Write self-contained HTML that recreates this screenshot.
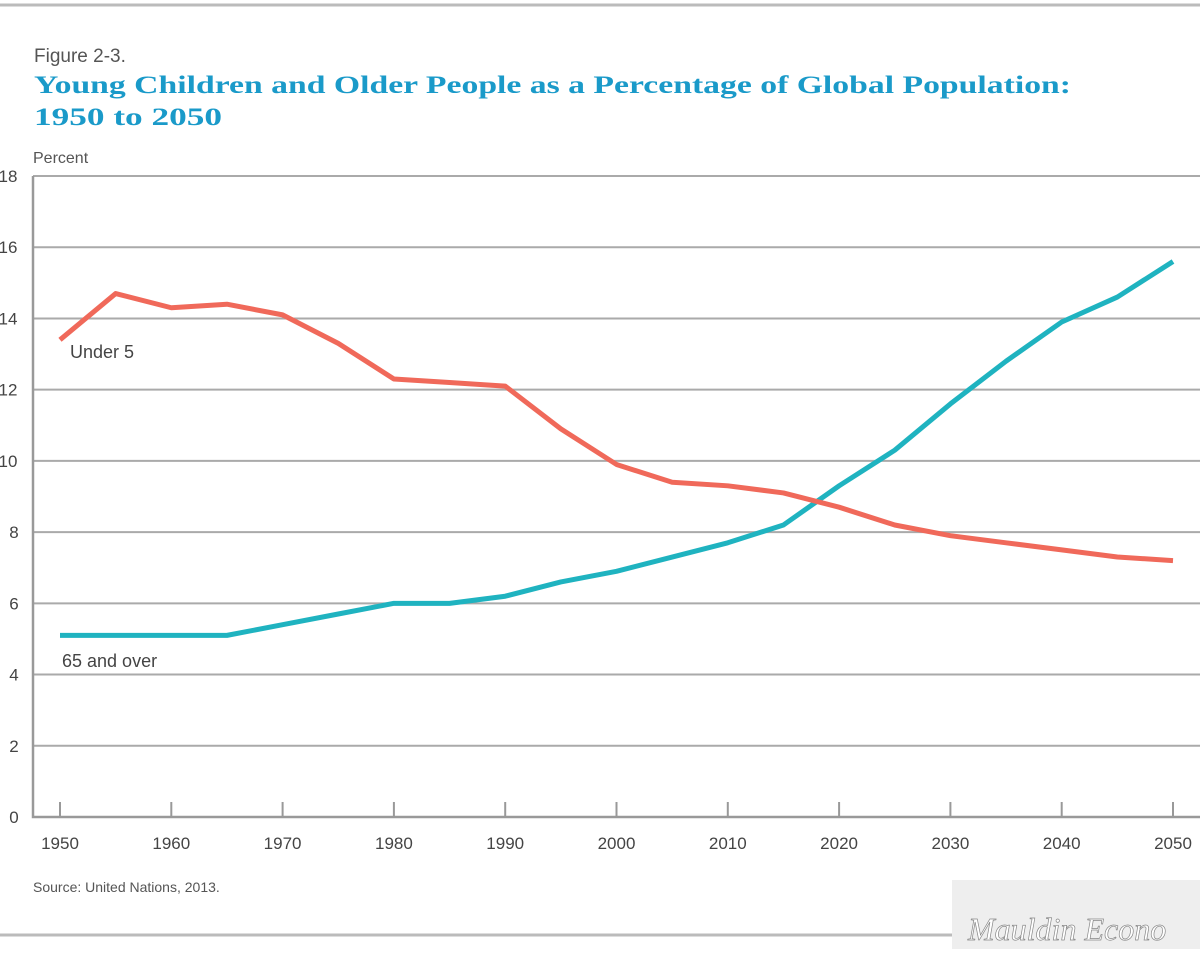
<!DOCTYPE html>
<html><head><meta charset="utf-8"><style>
body{margin:0;background:#fff;width:1200px;height:949px;overflow:hidden;font-family:"Liberation Sans",sans-serif}
</style></head><body>
<svg width="1200" height="949" xmlns="http://www.w3.org/2000/svg">
<line x1="0" y1="5" x2="1200" y2="5" stroke="#bbb" stroke-width="3"/>
<line x1="0" y1="935" x2="1200" y2="935" stroke="#bbb" stroke-width="3"/>
<text x="34" y="62" font-size="19" fill="#555">Figure 2-3.</text>
<text x="34" y="93" font-size="25" font-weight="bold" fill="#1a9ac9" font-family="Liberation Serif,serif" textLength="1037" lengthAdjust="spacingAndGlyphs">Young Children and Older People as a Percentage of Global Population:</text>
<text x="34" y="125" font-size="25" font-weight="bold" fill="#1a9ac9" font-family="Liberation Serif,serif" textLength="188" lengthAdjust="spacingAndGlyphs">1950 to 2050</text>
<text x="33" y="163" font-size="16" fill="#555">Percent</text>
<g id="grid"></g><g id="lines"></g>
<text x="70" y="358" font-size="18" fill="#444">Under 5</text>
<text x="62" y="667" font-size="18" fill="#444">65 and over</text>
<text x="33" y="892" font-size="14" fill="#555">Source: United Nations, 2013.</text>
<rect x="952" y="880" width="248" height="69" fill="#eee"/>
<text x="968" y="940" font-size="32" font-style="italic" fill="#fff" stroke="#888" stroke-width="0.7" font-family="Liberation Serif,serif">Mauldin Econo</text>
</svg>
<script>
const years=[1950,1955,1960,1965,1970,1975,1980,1985,1990,1995,2000,2005,2010,2015,2020,2025,2030,2035,2040,2045,2050];
const under5=[13.4,14.7,14.3,14.4,14.1,13.3,12.3,12.2,12.1,10.9,9.9,9.4,9.3,9.1,8.7,8.2,7.9,7.7,7.5,7.3,7.2];
const over65=[5.1,5.1,5.1,5.1,5.4,5.7,6.0,6.0,6.2,6.6,6.9,7.3,7.7,8.2,9.3,10.3,11.6,12.8,13.9,14.6,15.6];
const yTicks=[0,2,4,6,8,10,12,14,16,18];
const xTicks=[1950,1960,1970,1980,1990,2000,2010,2020,2030,2040,2050];
const NS="http://www.w3.org/2000/svg";
const X=y=>60+(y-1950)*(1173-60)/100;
const Y=v=>817-v*(817-176)/18;
function mk(t,a,p){const e=document.createElementNS(NS,t);for(const k in a)e.setAttribute(k,a[k]);p.appendChild(e);return e;}
const g=document.getElementById('grid');
yTicks.forEach(v=>{
 if(v>0){const l=mk('line',{x1:33,x2:1200,y1:Y(v),y2:Y(v),stroke:'#aaa','stroke-width':2},g);
 
 }
 const t=mk('text',{x:v>=10?8:14,y:Y(v)+6,'font-size':17,fill:'#444','text-anchor':'middle'},g);t.textContent=v;
 
 
});
const ax=mk('path',{d:`M33 176V817H1200`,stroke:'#999','stroke-width':2.5,fill:'none'},g);


xTicks.forEach(y=>{
 const l=mk('line',{x1:X(y),x2:X(y),y1:802,y2:817,stroke:'#999','stroke-width':2},g);
 
 
 const t=mk('text',{x:X(y),y:849,'font-size':17,fill:'#444','text-anchor':'middle'},g);t.textContent=y;
 
 
});
const L=document.getElementById('lines');
function line(vals,col,name){const p=mk('polyline',{points:years.map((y,i)=>X(y)+','+Y(vals[i])).join(' '),fill:'none',stroke:col,'stroke-width':5,'stroke-linejoin':'round'},L);
 
 }
line(over65,'#1fb3c0','line-65-and-over');
line(under5,'#f0695a','line-under-5');
</script>
</body></html>
